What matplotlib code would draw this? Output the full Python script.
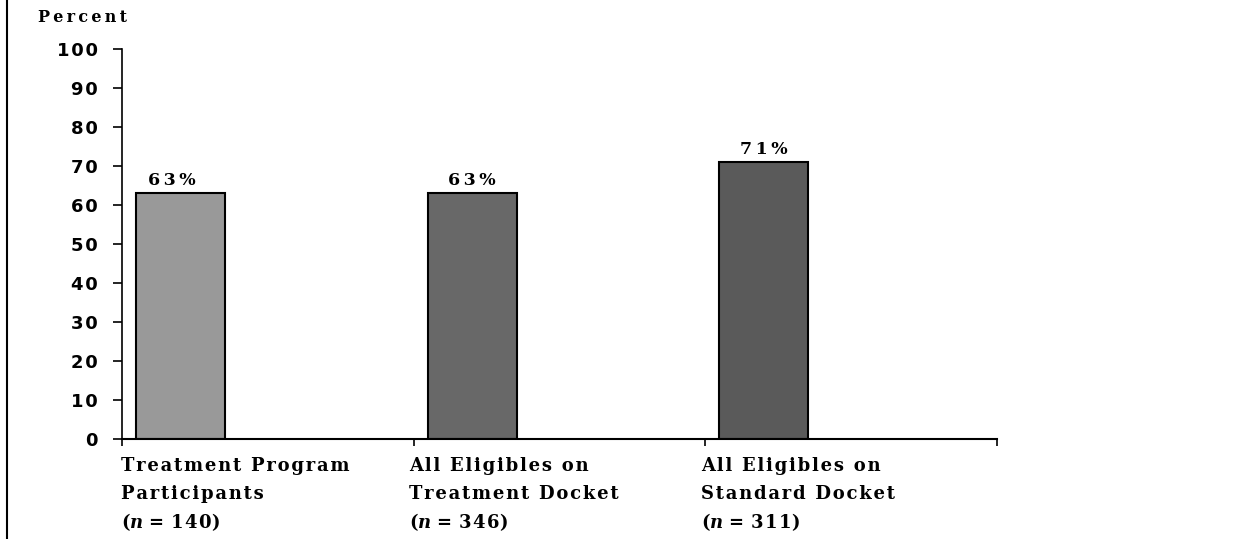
import matplotlib
matplotlib.use("Agg")
import matplotlib.pyplot as plt
from matplotlib.lines import Line2D

categories = ["Treatment Program\nParticipants",
              "All Eligibles on\nTreatment Docket",
              "All Eligibles on\nStandard Docket"]
n_labels = ["140", "346", "311"]
values = [63, 63, 71]
bar_colors = ["#999999", "#686868", "#5a5a5a"]
yticks = [0, 10, 20, 30, 40, 50, 60, 70, 80, 90, 100]

plt.rcParams["mathtext.fontset"] = "custom"
plt.rcParams["mathtext.it"] = "DejaVu Serif:italic:bold"
plt.rcParams["mathtext.rm"] = "DejaVu Serif:bold"

THIN = "\u2009"
HAIR = "\u200a"


def spaced(s, sep=THIN):
    return sep.join(list(s))


fig = plt.figure(figsize=(12.47, 5.39), dpi=100)
ax = fig.add_axes([122/1247, 1-439/539, (997-122)/1247, (439-49)/539])

serif = ["DejaVu Serif"]
sans = ["DejaVu Sans"]

offset = 0.048
width = 0.305
xs = [i + offset for i in range(len(values))]
ax.bar(xs, values, width=width, align="edge", color=bar_colors,
       edgecolor="black", linewidth=1.5, zorder=2)

for i, (x, v) in enumerate(zip(xs, values)):
    dx = -0.03 if i == 0 else 0
    ax.text(x + width/2 + dx, v + 1.0, spaced(f"{v}%", THIN), ha="center", va="bottom",
            fontsize=12.5, fontweight="bold", family=serif)

ax.set_xlim(0, 3)
ax.set_ylim(0, 100)
ax.set_yticks(yticks)
ax.set_yticklabels([spaced(str(t), HAIR) for t in yticks], fontsize=13,
                   fontweight="bold", family=sans)
ax.tick_params(axis="y", direction="out", length=6.5, width=1.2, pad=11)
ax.set_xticks([0, 1, 2, 3])
ax.set_xticklabels([])
ax.tick_params(axis="x", direction="out", length=5, width=1.2)

for s in ["top", "right"]:
    ax.spines[s].set_visible(False)
ax.spines["left"].set_linewidth(1.2)
ax.spines["bottom"].set_linewidth(1.5)

for i, (c, n) in enumerate(zip(categories, n_labels)):
    l1, l2 = c.split("\n")
    x0 = i - 0.005 if i == 0 else i - 0.015
    ax.text(x0, -4.5, spaced(l1, HAIR), ha="left", va="top",
            fontsize=13, fontweight="bold", family=serif)
    ax.text(x0, -11.9, spaced(l2, HAIR), ha="left", va="top",
            fontsize=13, fontweight="bold", family=serif)
    ax.text(x0, -18.6, "(" + "$n$" + " = " + spaced(n, HAIR) + ")",
            ha="left", va="top", fontsize=13, fontweight="bold", family=serif)

fig.text(38/1247, 1-17/539, spaced("Percent", THIN), ha="left", va="center",
         fontsize=11.5, fontweight="bold", family=serif)

fig.add_artist(Line2D([7/1247, 7/1247], [0, 1], color="black", linewidth=1.5,
                      transform=fig.transFigure))

fig.savefig("out.png", dpi=100)
